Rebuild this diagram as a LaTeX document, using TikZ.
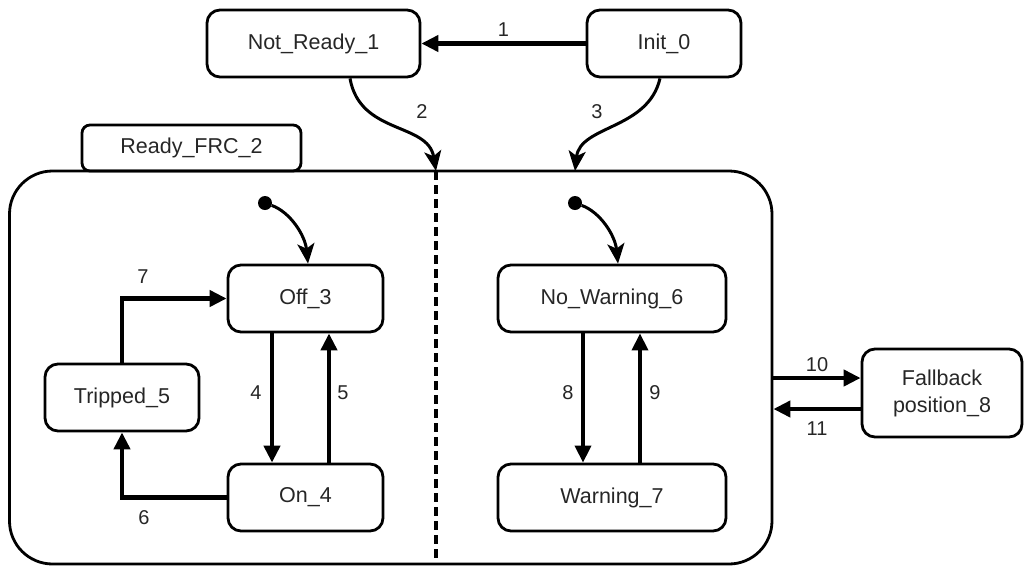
\documentclass[tikz,border=0pt]{standalone}
\usepackage{fontspec}
\setmainfont{Liberation Sans}
\usetikzlibrary{arrows.meta}
\begin{document}
\begin{tikzpicture}[x=1pt,y=-1pt,
  state/.style={draw, line width=2.8pt, rounded corners=13pt, minimum height=67pt,
    inner sep=0pt, align=center, font=\fontsize{21.5}{27}\selectfont, text=black!85},
  lbl/.style={font=\fontsize{20}{23}\selectfont, text=black!85, inner sep=0pt},
  arr/.style={line width=4.2pt, -{Triangle[length=17pt,width=16pt]}},
  curvearr/.style={line width=3pt, -{Stealth[length=20pt,width=17pt,inset=5pt]}},
  initdot/.style={circle, fill=black, minimum size=14pt, inner sep=0pt}]
\useasboundingbox (0,0) rectangle (1025,566);

% states
\node[state, minimum width=213pt] (notready) at (313.5,43.5) {Not\_Ready\_1};
\node[state, minimum width=154pt] (init) at (664,43.5) {Init\_0};
\node[draw, line width=2.8pt, rounded corners=43pt, minimum width=762.5pt,
      minimum height=393pt, inner sep=0pt] (ready) at (390.75,367.5) {};
\node[state, rounded corners=8pt, minimum width=219pt, minimum height=46pt]
      (tab) at (191.5,148) {Ready\_FRC\_2};
\node[state, minimum width=155pt] (off) at (305.5,298.5) {Off\_3};
\node[state, minimum width=155pt] (on) at (305.5,497.5) {On\_4};
\node[state, minimum width=154pt] (tripped) at (122,397.5) {Tripped\_5};
\node[state, minimum width=228pt] (nowarn) at (612,298.5) {No\_Warning\_6};
\node[state, minimum width=228pt] (warn) at (612,497.5) {Warning\_7};
\node[state, minimum width=160pt, minimum height=88pt] (fallback) at (942,393)
      {Fallback\\position\_8};

% region separator
\coordinate (dtop) at (436,171);
\coordinate (dbot) at (436,564);
\draw[line width=3.6pt, dash pattern=on 9pt off 5pt] (dtop) -- (dbot);

% initial pseudo-states
\node[initdot] (dotL) at (265,203) {};
\node[initdot] (dotR) at (575,203) {};
\draw[curvearr] (dotL) .. controls (290,212) and (305,235) .. ([xshift=2.5pt]off.north);
\draw[curvearr] (dotR) .. controls (600,212) and (615,235) .. ([xshift=6pt]nowarn.north);

% top-level transitions
\draw[arr] (init.west) -- (notready.east) node[lbl, pos=0.5, above=5pt] {1};
\coordinate (in3) at (575,171);
\draw[curvearr] ([xshift=36.5pt]notready.south) .. controls (360,135) and (428,122) .. (dtop);
\draw[curvearr] ([xshift=-4pt]init.south) .. controls (648,130) and (580,125) .. (in3);
\node[lbl] (l2) at (422,112) {2};
\node[lbl] (l3) at (597,112) {3};

% left region
\draw[arr, line width=4.8pt] ([xshift=-33.5pt]off.south) -- ([xshift=-33.5pt]on.north);
\draw[arr] ([xshift=23.5pt]on.north) -- ([xshift=23.5pt]off.south);
\draw[arr] (on.west) -| (tripped.south);
\draw[arr] (tripped.north) |- (off.west);
\node[lbl] (l4) at (256,393) {4};
\node[lbl] (l5) at (343,393) {5};
\node[lbl] (l6) at (144,518) {6};
\node[lbl] (l7) at (143,277) {7};

% right region
\draw[arr, line width=3.6pt] ([xshift=-29pt]nowarn.south) -- ([xshift=-29pt]warn.north);
\draw[arr, line width=3.6pt] ([xshift=28pt]warn.north) -- ([xshift=28pt]nowarn.south);
\node[lbl] (l8) at (568,393) {8};
\node[lbl] (l9) at (655,393) {9};

% fallback transitions
\coordinate (f10) at ([yshift=15pt]fallback.west);
\coordinate (f11) at ([yshift=-16pt]fallback.west);
\draw[arr] (f10 -| ready.east) -- (f10);
\draw[arr] (f11) -- (f11 -| ready.east);
\node[lbl] (l10) at (817,365) {10};
\node[lbl] (l11) at (817,429) {11};
\end{tikzpicture}
\end{document}
